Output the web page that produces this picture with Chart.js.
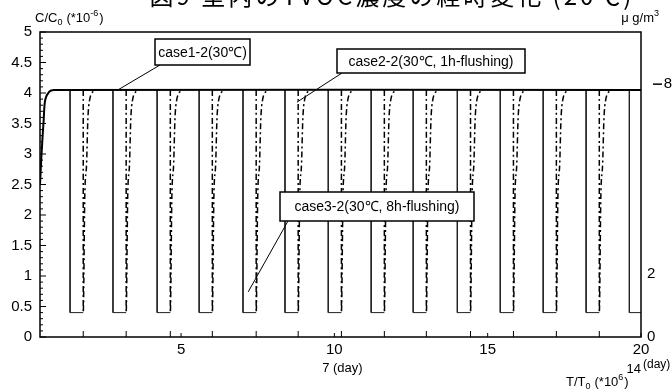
<!DOCTYPE html>
<html>
<head>
<meta charset="utf-8">
<script src="https://cdn.jsdelivr.net/npm/chart.js@4.4.1/dist/chart.umd.min.js"></script>
<style>
  html, body { margin: 0; padding: 0; background: #fff; }
  #wrap { position: relative; width: 672px; height: 389px; }
</style>
</head>
<body>
<div id="wrap"><canvas id="chart" width="672" height="389"></canvas></div>
<script>
// values
var xTicks = [5, 10, 15, 20];
var rightTicks = [0, 2, 8];
var levelTop = 4.05;
var levelFlush = 0.4;

// case1-2: start-up curve then flat
var case1X = [0.4, 0.45, 0.52, 0.57, 0.7, 0.85, 20];
var case1C = [2.5, 3.0, 3.56, 3.89, 4.02, 4.05, 4.05];

// flushing starts / ends (T/T0 *10^6)
var flushStart = [1.38, 2.78, 4.22, 5.59, 7.02, 8.39, 9.80, 11.20, 12.57, 14.01, 15.41, 16.81, 18.21, 19.62];
var flushEnd   = [1.81, 3.21, 4.65, 6.02, 7.45, 8.82, 10.23, 11.63, 13.00, 14.44, 15.84, 17.24, 18.64, 20.05];

// recovery after a flush (offset from flush end, C/C0)
var recoverDx = [0, 0, 0.05, 0.11, 0.15, 0.21, 0.37];
var recoverC  = [4.05, 0.4, 2.3, 2.85, 3.56, 3.89, 4.05];

var case1 = case1X.map(function (x, i) { return { x: x, y: case1C[i] }; });

var case3 = [];
flushStart.forEach(function (s, i) {
  case3.push({ x: s, y: levelTop });
  case3.push({ x: s, y: levelFlush });
  case3.push({ x: flushEnd[i], y: levelFlush });
  case3.push({ x: flushEnd[i], y: null });
});

var case2 = [];
flushEnd.forEach(function (e) {
  recoverDx.forEach(function (d, k) { case2.push({ x: e + d, y: recoverC[k] }); });
  case2.push({ x: e + 0.4, y: null });
});

var FONT = "'Liberation Sans', Arial, sans-serif";

// frame, inner ticks, titles and callouts
var decor = {
  id: 'decor',
  afterDatasetsDraw: function (chart) {
    var ctx = chart.ctx, a = chart.chartArea;
    var xs = chart.scales.x, ys = chart.scales.y;
    ctx.save();
    ctx.strokeStyle = '#000';
    ctx.lineWidth = 1.5;
    ctx.strokeRect(a.left, a.top, a.right - a.left, a.bottom - a.top);

    // left inner ticks
    ctx.lineWidth = 1;
    for (var v = 0; v <= 50; v++) {
      var py = ys.getPixelForValue(v / 10);
      ctx.beginPath();
      ctx.moveTo(a.left, py);
      ctx.lineTo(a.left + (v % 5 === 0 ? 6 : 3), py);
      ctx.stroke();
    }
    // bottom inner ticks at day boundaries
    flushEnd.forEach(function (e) {
      if (e > xs.max) return;
      var px = xs.getPixelForValue(e);
      ctx.beginPath();
      ctx.moveTo(px, a.bottom);
      ctx.lineTo(px, a.bottom - 6);
      ctx.stroke();
    });
    xTicks.forEach(function (t) {
      var px = xs.getPixelForValue(t);
      ctx.beginPath();
      ctx.moveTo(px, a.bottom);
      ctx.lineTo(px, a.bottom - 4);
      ctx.stroke();
    });

    ctx.fillStyle = '#000';
    ctx.textBaseline = 'alphabetic';
    // axis titles
    ctx.font = '13px ' + FONT;
    ctx.textAlign = 'left';
    ctx.fillText('C/C', 35, 22);
    var w = ctx.measureText('C/C').width;
    ctx.font = '9px ' + FONT;
    ctx.fillText('0', 35 + w, 25);
    ctx.font = '13px ' + FONT;
    ctx.fillText('(*10', 35 + w + 9, 22);
    var w2 = ctx.measureText('(*10').width;
    ctx.font = '9px ' + FONT;
    ctx.fillText('-6', 35 + w + 9 + w2, 16);
    ctx.font = '13px ' + FONT;
    ctx.fillText(')', 35 + w + 9 + w2 + 9, 22);

    ctx.textAlign = 'right';
    ctx.fillText('\u03bc g/m', 654, 22);
    ctx.font = '9px ' + FONT;
    ctx.textAlign = 'left';
    ctx.fillText('3', 654, 16);

    // day labels
    ctx.font = '13px ' + FONT;
    ctx.textAlign = 'center';
    ctx.fillText('7 (day)', xs.getPixelForValue(10) + 8, 372);
    ctx.textAlign = 'right';
    ctx.fillText('14', 641, 373);
    ctx.font = '12px ' + FONT;
    ctx.textAlign = 'left';
    ctx.fillText('(day)', 643, 368);
    ctx.font = '13px ' + FONT;
    var tx = 566;
    ctx.fillText('T/T', tx, 386);
    var w3 = ctx.measureText('T/T').width;
    ctx.font = '9px ' + FONT;
    ctx.fillText('0', tx + w3, 389);
    ctx.font = '13px ' + FONT;
    ctx.fillText('(*10', tx + w3 + 9, 386);
    var w4 = ctx.measureText('(*10').width;
    ctx.font = '9px ' + FONT;
    ctx.fillText('6', tx + w3 + 9 + w4, 380);
    ctx.font = '13px ' + FONT;
    ctx.fillText(')', tx + w3 + 9 + w4 + 6, 386);

    // right axis dash by 8
    var p8 = chart.scales.y2.getPixelForValue(8);
    ctx.lineWidth = 1.5;
    ctx.beginPath();
    ctx.moveTo(a.right + 12, p8);
    ctx.lineTo(a.right + 21, p8);
    ctx.stroke();

    // callouts
    var callouts = [
      { text: 'case1-2(30\u2103)', box: [155, 39, 95, 26], from: [160, 65], to: [2.94, 4.05] },
      { text: 'case2-2(30\u2103, 1h-flushing)', box: [337, 49, 188, 24], from: [342, 73], to: [8.78, 3.85] },
      { text: 'case3-2(30\u2103, 8h-flushing)', box: [280, 192, 194, 29], from: [288, 221], to: [7.19, 0.74] }
    ];
    ctx.font = '14px ' + FONT;
    ctx.textAlign = 'center';
    ctx.textBaseline = 'middle';
    callouts.forEach(function (c) {
      ctx.lineWidth = 1;
      ctx.beginPath();
      ctx.moveTo(c.from[0], c.from[1]);
      ctx.lineTo(xs.getPixelForValue(c.to[0]), ys.getPixelForValue(c.to[1]));
      ctx.stroke();
      ctx.fillStyle = '#fff';
      ctx.fillRect(c.box[0], c.box[1], c.box[2], c.box[3]);
      ctx.lineWidth = 1.5;
      ctx.strokeRect(c.box[0], c.box[1], c.box[2], c.box[3]);
      ctx.fillStyle = '#000';
      ctx.fillText(c.text, c.box[0] + c.box[2] / 2, c.box[1] + c.box[3] / 2 + 1);
    });

    // cut-off caption at the very top
    ctx.font = '24px "Noto Sans CJK JP", sans-serif';
    ctx.letterSpacing = '3px';
    ctx.textAlign = 'center';
    ctx.textBaseline = 'alphabetic';
    ctx.fillText('図9 室内のTVOC濃度の経時変化 (20℃)', 392, 5);
    ctx.restore();
  }
};

new Chart(document.getElementById('chart'), {
  type: 'line',
  data: {
    datasets: [
      { label: 'case1-2', data: case1, borderColor: '#000', borderWidth: 2, pointRadius: 0, tension: 0.3, yAxisID: 'y' },
      { label: 'case3-2', data: case3, borderColor: '#222', borderWidth: 1, pointRadius: 0, tension: 0, spanGaps: false, yAxisID: 'y' },
      { label: 'case2-2', data: case2, borderColor: '#000', borderWidth: 1.5, borderDash: [6, 3, 2, 3], pointRadius: 0, tension: 0.3, cubicInterpolationMode: 'monotone', spanGaps: false, yAxisID: 'y' }
    ]
  },
  options: {
    responsive: false,
    animation: false,
    layout: { padding: { top: 32, left: 0, right: 0, bottom: 0 } },
    plugins: { legend: { display: false }, tooltip: { enabled: false } },
    scales: {
      x: {
        type: 'linear', min: 0.4, max: 20,
        grid: { display: false, drawTicks: false }, border: { display: false },
        afterBuildTicks: function (s) { s.ticks = xTicks.map(function (v) { return { value: v }; }); },
        afterFit: function (s) { s.height = 52; },
        ticks: { color: '#000', font: { family: FONT, size: 15 }, padding: 4, maxRotation: 0 }
      },
      y: {
        type: 'linear', position: 'left', min: 0, max: 5,
        grid: { display: false, drawTicks: false }, border: { display: false },
        afterFit: function (s) { s.width = 40; },
        ticks: { stepSize: 0.5, color: '#000', font: { family: FONT, size: 15 }, padding: 8,
          callback: function (v) { return String(v); } }
      },
      y2: {
        type: 'linear', position: 'right', min: 0, max: 9.65,
        grid: { display: false, drawTicks: false }, border: { display: false },
        afterBuildTicks: function (s) { s.ticks = rightTicks.map(function (v) { return { value: v }; }); },
        afterFit: function (s) { s.width = 31; },
        ticks: { color: '#000', font: { family: FONT, size: 15 }, padding: 6,
          callback: function (v) { return v === 8 ? '    8' : String(v); } }
      }
    }
  },
  plugins: [decor]
});
</script>
</body>
</html>
